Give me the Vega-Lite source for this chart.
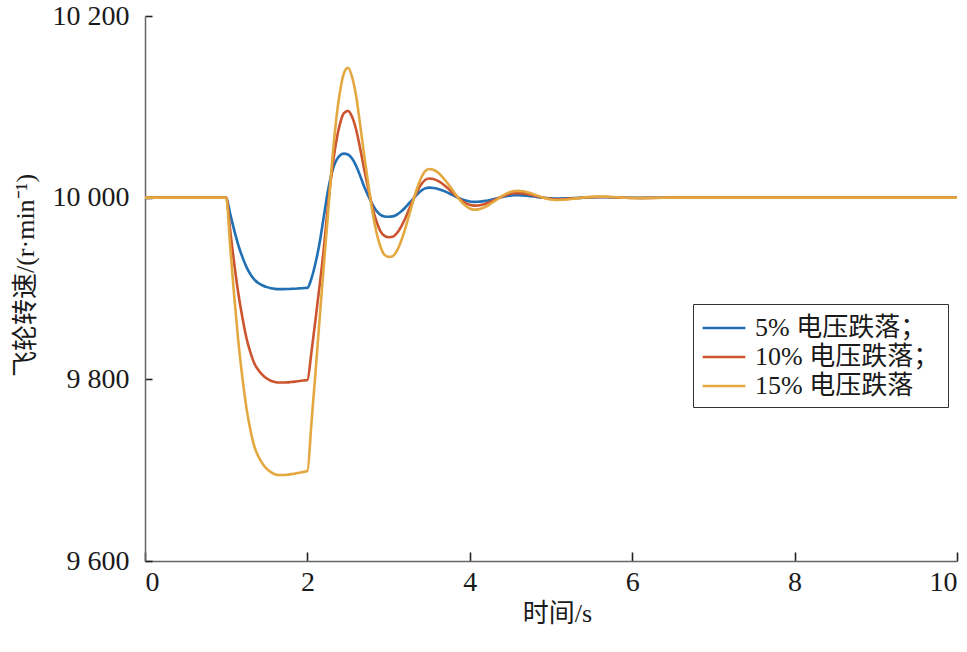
{
  "$schema": "https://vega.github.io/schema/vega-lite/v6.json",
  "width": 812,
  "height": 545,
  "autosize": {"type": "none"},
  "padding": {"left": 145, "top": 16, "right": 10, "bottom": 91},
  "background": "white",
  "data": {
    "values": [
      {"t": 0, "s5": 10000, "s10": 10000, "s15": 10000},
      {"t": 1.0, "s5": 10000, "s10": 10000, "s15": 10000},
      {"t": 1.05, "s5": 9981.9, "s10": 9963.4, "s15": 9945.0},
      {"t": 1.10, "s5": 9963.7, "s10": 9926.7, "s15": 9890.1},
      {"t": 1.15, "s5": 9947.6, "s10": 9894.2, "s15": 9841.2},
      {"t": 1.20, "s5": 9934.5, "s10": 9867.7, "s15": 9801.6},
      {"t": 1.25, "s5": 9923.5, "s10": 9845.3, "s15": 9768.0},
      {"t": 1.30, "s5": 9915.4, "s10": 9829.1, "s15": 9743.5},
      {"t": 1.35, "s5": 9909.4, "s10": 9816.9, "s15": 9725.2},
      {"t": 1.40, "s5": 9905.8, "s10": 9809.7, "s15": 9714.5},
      {"t": 1.45, "s5": 9903.3, "s10": 9804.6, "s15": 9706.9},
      {"t": 1.50, "s5": 9901.5, "s10": 9800.9, "s15": 9701.4},
      {"t": 1.55, "s5": 9900.3, "s10": 9798.5, "s15": 9697.8},
      {"t": 1.60, "s5": 9899.6, "s10": 9797.1, "s15": 9695.6},
      {"t": 1.65, "s5": 9899.3, "s10": 9796.5, "s15": 9694.7},
      {"t": 1.70, "s5": 9899.3, "s10": 9796.5, "s15": 9694.7},
      {"t": 1.75, "s5": 9899.4, "s10": 9796.7, "s15": 9695.0},
      {"t": 1.80, "s5": 9899.6, "s10": 9797.1, "s15": 9695.6},
      {"t": 1.85, "s5": 9899.8, "s10": 9797.5, "s15": 9696.2},
      {"t": 1.90, "s5": 9900.1, "s10": 9798.1, "s15": 9697.2},
      {"t": 1.95, "s5": 9900.4, "s10": 9798.7, "s15": 9698.1},
      {"t": 2.00, "s5": 9900.7, "s10": 9799.3, "s15": 9699.0},
      {"t": 2.05, "s5": 9911, "s10": 9830, "s15": 9752},
      {"t": 2.10, "s5": 9928, "s10": 9866, "s15": 9808},
      {"t": 2.15, "s5": 9950, "s10": 9903, "s15": 9866},
      {"t": 2.20, "s5": 9978, "s10": 9942, "s15": 9923},
      {"t": 2.25, "s5": 10006, "s10": 9988, "s15": 9978},
      {"t": 2.30, "s5": 10027, "s10": 10028, "s15": 10035},
      {"t": 2.35, "s5": 10040, "s10": 10059, "s15": 10082},
      {"t": 2.40, "s5": 10046.5, "s10": 10081, "s15": 10116},
      {"t": 2.45, "s5": 10048.5, "s10": 10093, "s15": 10137},
      {"t": 2.50, "s5": 10047.5, "s10": 10095.5, "s15": 10143},
      {"t": 2.55, "s5": 10043, "s10": 10089, "s15": 10133},
      {"t": 2.60, "s5": 10035, "s10": 10075, "s15": 10112},
      {"t": 2.65, "s5": 10024, "s10": 10054, "s15": 10080},
      {"t": 2.70, "s5": 10012, "s10": 10031, "s15": 10046},
      {"t": 2.75, "s5": 10002, "s10": 10010, "s15": 10015},
      {"t": 2.80, "s5": 9993, "s10": 9990, "s15": 9985},
      {"t": 2.85, "s5": 9985.5, "s10": 9974, "s15": 9962},
      {"t": 2.90, "s5": 9981, "s10": 9963, "s15": 9946},
      {"t": 2.95, "s5": 9979.3, "s10": 9958, "s15": 9937},
      {"t": 3.00, "s5": 9979.0, "s10": 9956.5, "s15": 9934.8},
      {"t": 3.05, "s5": 9979.4, "s10": 9957.0, "s15": 9935.5},
      {"t": 3.10, "s5": 9981.2, "s10": 9960.7, "s15": 9941.1},
      {"t": 3.15, "s5": 9984.4, "s10": 9967.4, "s15": 9951.1},
      {"t": 3.20, "s5": 9988.6, "s10": 9976.3, "s15": 9964.5},
      {"t": 3.25, "s5": 9993.6, "s10": 9986.6, "s15": 9979.9},
      {"t": 3.30, "s5": 9998.5, "s10": 9997.1, "s15": 9995.7},
      {"t": 3.35, "s5": 10003.5, "s10": 10006.7, "s15": 10010.1},
      {"t": 3.40, "s5": 10007.6, "s10": 10014.4, "s15": 10021.6},
      {"t": 3.45, "s5": 10010.2, "s10": 10019.5, "s15": 10029.2},
      {"t": 3.50, "s5": 10011.1, "s10": 10021.1, "s15": 10031.6},
      {"t": 3.55, "s5": 10010.7, "s10": 10020.5, "s15": 10030.7},
      {"t": 3.60, "s5": 10009.9, "s10": 10018.8, "s15": 10028.2},
      {"t": 3.65, "s5": 10008.4, "s10": 10016.1, "s15": 10024.1},
      {"t": 3.70, "s5": 10006.6, "s10": 10012.6, "s15": 10018.9},
      {"t": 3.75, "s5": 10004.6, "s10": 10008.7, "s15": 10013.0},
      {"t": 3.80, "s5": 10002.3, "s10": 10004.5, "s15": 10006.7},
      {"t": 3.85, "s5": 10000.2, "s10": 10000.4, "s15": 10000.6},
      {"t": 3.90, "s5": 9998.3, "s10": 9996.8, "s15": 9995.2},
      {"t": 3.95, "s5": 9996.8, "s10": 9994.0, "s15": 9991.0},
      {"t": 4.00, "s5": 9995.8, "s10": 9992.1, "s15": 9988.1},
      {"t": 4.05, "s5": 9995.4, "s10": 9991.2, "s15": 9986.8},
      {"t": 4.10, "s5": 9995.5, "s10": 9991.4, "s15": 9987.1},
      {"t": 4.15, "s5": 9995.9, "s10": 9992.2, "s15": 9988.3},
      {"t": 4.20, "s5": 9996.6, "s10": 9993.5, "s15": 9990.3},
      {"t": 4.25, "s5": 9997.5, "s10": 9995.3, "s15": 9992.9},
      {"t": 4.30, "s5": 9998.6, "s10": 9997.3, "s15": 9995.9},
      {"t": 4.35, "s5": 9999.6, "s10": 9999.3, "s15": 9999.0},
      {"t": 4.40, "s5": 10000.7, "s10": 10001.3, "s15": 10002.0},
      {"t": 4.45, "s5": 10001.6, "s10": 10003.0, "s15": 10004.5},
      {"t": 4.50, "s5": 10002.2, "s10": 10004.2, "s15": 10006.3},
      {"t": 4.55, "s5": 10002.6, "s10": 10004.9, "s15": 10007.3},
      {"t": 4.60, "s5": 10002.6, "s10": 10005.0, "s15": 10007.5},
      {"t": 4.65, "s5": 10002.5, "s10": 10004.7, "s15": 10007.0},
      {"t": 4.70, "s5": 10002.1, "s10": 10004.1, "s15": 10006.1},
      {"t": 4.75, "s5": 10001.7, "s10": 10003.2, "s15": 10004.8},
      {"t": 4.80, "s5": 10001.2, "s10": 10002.2, "s15": 10003.3},
      {"t": 4.85, "s5": 10000.6, "s10": 10001.1, "s15": 10001.7},
      {"t": 4.90, "s5": 10000.1, "s10": 10000.1, "s15": 10000.2},
      {"t": 4.95, "s5": 9999.6, "s10": 9999.3, "s15": 9998.9},
      {"t": 5.00, "s5": 9999.3, "s10": 9998.7, "s15": 9998.0},
      {"t": 5.05, "s5": 9999.1, "s10": 9998.3, "s15": 9997.5},
      {"t": 5.10, "s5": 9999.1, "s10": 9998.3, "s15": 9997.5},
      {"t": 5.20, "s5": 9999.3, "s10": 9998.7, "s15": 9998.0},
      {"t": 5.30, "s5": 9999.6, "s10": 9999.3, "s15": 9999.0},
      {"t": 5.40, "s5": 10000.0, "s10": 10000.0, "s15": 10000.1},
      {"t": 5.50, "s5": 10000.3, "s10": 10000.6, "s15": 10000.9},
      {"t": 5.60, "s5": 10000.4, "s10": 10000.8, "s15": 10001.2},
      {"t": 5.70, "s5": 10000.4, "s10": 10000.7, "s15": 10001.0},
      {"t": 5.80, "s5": 10000.2, "s10": 10000.3, "s15": 10000.5},
      {"t": 5.90, "s5": 10000, "s10": 10000, "s15": 10000},
      {"t": 6.00, "s5": 9999.9, "s10": 9999.7, "s15": 9999.6},
      {"t": 6.10, "s5": 9999.8, "s10": 9999.7, "s15": 9999.5},
      {"t": 6.30, "s5": 9999.9, "s10": 9999.9, "s15": 9999.8},
      {"t": 6.50, "s5": 10000, "s10": 10000.1, "s15": 10000.1},
      {"t": 7.00, "s5": 10000, "s10": 10000, "s15": 10000},
      {"t": 10.00, "s5": 10000, "s10": 10000, "s15": 10000}
    ]
  },
  "transform": [
    {"fold": ["s5", "s10", "s15"], "as": ["series", "speed"]}
  ],
  "mark": {"type": "line", "strokeWidth": 2.6, "interpolate": "monotone", "clip": true},
  "encoding": {
    "x": {
      "field": "t",
      "type": "quantitative",
      "scale": {"domain": [0, 10], "nice": false},
      "axis": {
        "title": "时间/s",
        "values": [0, 2, 4, 6, 8, 10],
        "grid": false,
        "ticks": true,
        "tickSize": -9,
        "labelPadding": 16,
        "titleX": 412,
        "titleY": 52,
        "titleBaseline": "middle"
      }
    },
    "y": {
      "field": "speed",
      "type": "quantitative",
      "scale": {"domain": [9600, 10200], "nice": false, "zero": false},
      "axis": {
        "title": "飞轮转速/(r·min⁻¹)",
        "values": [9600, 9800, 10000, 10200],
        "labelExpr": "replace(format(datum.value, ','), ',', ' ')",
        "grid": false,
        "ticks": true,
        "tickSize": -7,
        "labelPadding": 23,
        "titleX": -120,
        "titleY": 259,
        "titleAlign": "center",
        "titleBaseline": "middle"
      }
    },
    "color": {
      "field": "series",
      "type": "nominal",
      "scale": {
        "domain": ["s5", "s10", "s15"],
        "range": ["#2170b3", "#cc5530", "#e3a840"]
      },
      "legend": {
        "title": null,
        "orient": "none",
        "legendX": 548,
        "legendY": 288,
        "labelExpr": "datum.value == 's5' ? '5% 电压跌落；' : datum.value == 's10' ? '10% 电压跌落；' : '15% 电压跌落'",
        "symbolType": "M-1.5,0H1.5",
        "symbolSize": 812,
        "symbolStrokeWidth": 2.6,
        "symbolOffset": 7,
        "labelFontSize": 26,
        "labelOffset": 15,
        "rowPadding": 0,
        "padding": 8,
        "strokeColor": "#333333",
        "fillColor": "white",
        "labelLimit": 400
      }
    }
  },
  "config": {
    "view": {"stroke": null},
    "font": "Liberation Serif, Noto Sans CJK SC",
    "axis": {
      "domainColor": "#666666",
      "tickColor": "#222222",
      "domainWidth": 1.5,
      "tickWidth": 1.6,
      "labelFont": "Liberation Serif, Noto Sans CJK SC",
      "labelFontSize": 28,
      "labelColor": "#1a1a1a",
      "titleFont": "Liberation Serif, Noto Sans CJK SC",
      "titleFontSize": 26,
      "titleFontWeight": "normal",
      "titleColor": "#1a1a1a"
    },
    "legend": {
      "labelFont": "Liberation Serif, Noto Sans CJK SC",
      "labelColor": "#1a1a1a"
    }
  }
}
